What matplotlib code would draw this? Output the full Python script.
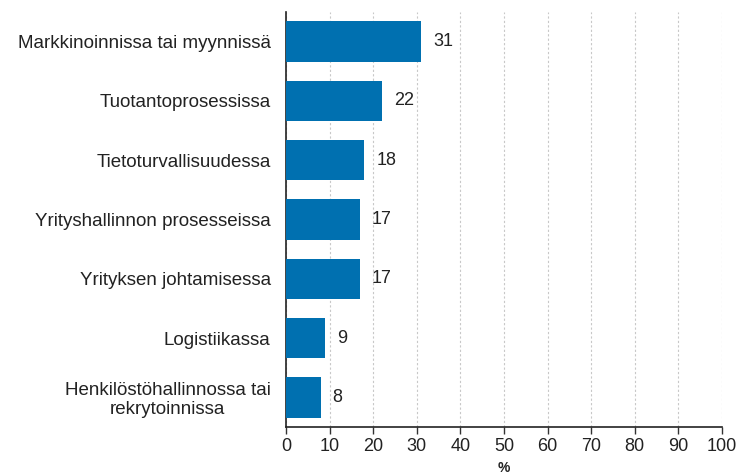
import matplotlib
matplotlib.use("Agg")
import matplotlib.pyplot as plt

categories = [
    "Markkinoinnissa tai myynnissä",
    "Tuotantoprosessissa",
    "Tietoturvallisuudessa",
    "Yrityshallinnon prosesseissa",
    "Yrityksen johtamisessa",
    "Logistiikassa",
    "Henkilöstöhallinnossa tai\nrekrytoinnissa",
]
values = [31, 22, 18, 17, 17, 9, 8]
xticks = [0, 10, 20, 30, 40, 50, 60, 70, 80, 90, 100]

plt.rcParams['font.family'] = ['Liberation Sans', 'DejaVu Sans']

FS = 13
fig = plt.figure(figsize=(7.39, 4.75), dpi=100)
ax = fig.add_axes([286/739, 1 - 427/475, (722-286)/739, (427-12)/475])

ypos = list(range(len(categories)))
ax.barh(ypos, values, height=0.68, color="#0070b0", zorder=3)
for y, v in zip(ypos, values):
    ax.text(v + 2.7, y, f"{v}", va="center", ha="left", fontsize=FS, color="#222222")

ax.set_ylim(len(categories) - 0.5, -0.5)
ax.set_xlim(0, 100)
ax.set_yticks(ypos)
labels = ax.set_yticklabels(categories, fontsize=13.5, color="#222222", linespacing=1.1)
for lb in labels:
    lb.set_multialignment("center")
ax.tick_params(axis="y", length=0, pad=11)
ax.set_xticks(xticks)
ax.set_xticklabels([str(t) for t in xticks], fontsize=FS, color="#222222")
ax.tick_params(axis="x", length=5, width=1, color="#333333", pad=3)
ax.grid(axis="x", linestyle=(0, (2, 2)), color="#c8c8c8", linewidth=0.8, zorder=0)
for s in ["top", "right"]:
    ax.spines[s].set_visible(False)
ax.spines["left"].set_color("#222222")
ax.spines["bottom"].set_color("#222222")
ax.spines["left"].set_linewidth(1.2)
ax.spines["bottom"].set_linewidth(1.2)
ax.set_xlabel("%", fontsize=10, fontweight="bold", labelpad=4, color="#222222")

fig.savefig("out.png", dpi=100)
